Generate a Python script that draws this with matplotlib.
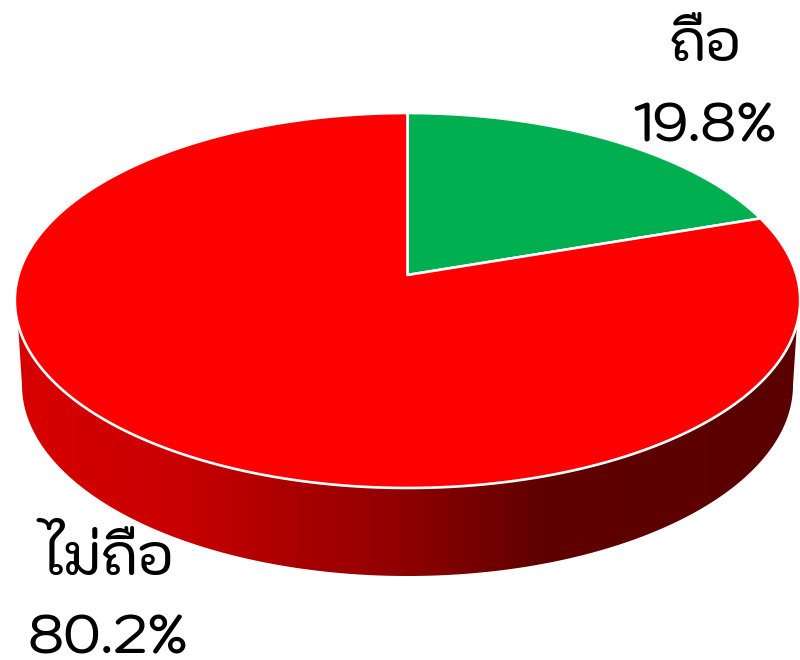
import matplotlib
matplotlib.use("Agg")
import matplotlib.pyplot as plt
from matplotlib.colors import LinearSegmentedColormap
from matplotlib.patches import Polygon
import numpy as np

# Chart data
labels = ["ถือ", "ไม่ถือ"]
values = [19.8, 80.2]
colors = ["#00B050", "#FF0000"]
label_pos = [(705, 60, 142), (108, 574, 654)]  # x, baseline of name, baseline of percent

# pie geometry in pixels
cx, cy = 407.5, 275
rx, ry = 389, 184
k = 0.136  # perspective
drop_cx, drop_cy = 407.5, 385
drop_rx, drop_ry = 385.5, 191

# side gradient
grad_x = [15, 180, 300, 400, 540, 800]
grad_c = ["#D80000", "#C80000", "#A80000", "#900000", "#600000", "#5A0000"]

font = ["Kodchasan", "DejaVu Sans"]


def project(angle):
    # angle clockwise from the top, in degrees
    a = np.radians(angle)
    u, v = np.sin(a), np.cos(a)
    return cx + rx * u / (1 + k * v), cy - ry * v / (1 + k * v)


fig = plt.figure(figsize=(8, 6.6), dpi=100)
ax = fig.add_axes([0, 0, 1, 1])
ax.axis("off")

# Side wall, top rim front part + lower rim
a = np.linspace(255, 105, 300)
tx, ty = project(a)
t = np.linspace(np.pi, 0, 300)
lx = drop_cx - drop_rx * np.cos(t)
ly = drop_cy + drop_ry * np.sin(t)
side = Polygon(np.r_[np.c_[tx, ty], np.c_[lx, ly]], closed=True, fc="none", ec="none")
ax.add_patch(side)
cmap = LinearSegmentedColormap.from_list(
    "side", [((x - grad_x[0]) / (grad_x[-1] - grad_x[0]), c) for x, c in zip(grad_x, grad_c)]
)
img = ax.imshow(np.linspace(0, 1, 512)[None, :], cmap=cmap, aspect="auto",
                extent=[grad_x[0], grad_x[-1], 600, 250], zorder=1)
img.set_clip_path(side)
ax.set_xlim(0, 800)
ax.set_ylim(660, 0)

# Top face
start = 0
for val, col in zip(values, colors):
    sweep = val / sum(values) * 360
    a = np.linspace(start, start + sweep, 400)
    x, y = project(a)
    ax.add_patch(Polygon(np.r_[[[cx, cy]], np.c_[x, y]], closed=True, fc=col, ec="white", lw=1.9,
                         joinstyle="round", zorder=2))
    start += sweep

# Labels
for name, val, (lx0, y1, y2) in zip(labels, values, label_pos):
    ax.text(lx0, y1, name, family=font, weight=500, fontsize=39, ha="center", va="baseline", color="black", zorder=3)
    ax.text(lx0, y2, "%.1f%%" % val, family=font, weight=500, fontsize=39, ha="center", va="baseline", color="black", zorder=3)

fig.savefig("out.png", dpi=100)
